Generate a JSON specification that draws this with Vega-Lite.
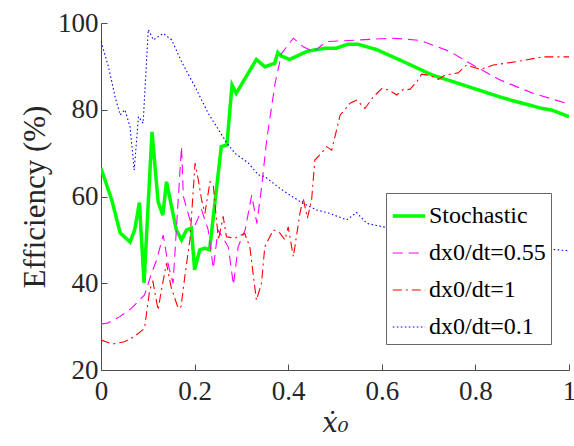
{
  "$schema": "https://vega.github.io/schema/vega-lite/v6.json",
  "width": 468,
  "height": 347,
  "autosize": {"type": "none"},
  "padding": {"left": 101, "top": 23, "right": 5, "bottom": 76},
  "background": "white",
  "config": {
    "view": {"stroke": null},
    "font": "Liberation Serif",
    "axis": {"grid": false, "domainColor": "#4d4d4d", "tickColor": "#4d4d4d", "labelColor": "#262626", "titleColor": "#262626", "labelFont": "Liberation Serif", "labelFontSize": 27, "titleFontWeight": "normal", "tickSize": -6}
  },
  "data": {"values": [
    {"series": "Stochastic", "x": 0.0, "y": 66.5},
    {"series": "Stochastic", "x": 0.023, "y": 59.2},
    {"series": "Stochastic", "x": 0.041, "y": 51.6},
    {"series": "Stochastic", "x": 0.062, "y": 49.5},
    {"series": "Stochastic", "x": 0.072, "y": 52.3},
    {"series": "Stochastic", "x": 0.082, "y": 58.6},
    {"series": "Stochastic", "x": 0.092, "y": 40.1},
    {"series": "Stochastic", "x": 0.109, "y": 74.9},
    {"series": "Stochastic", "x": 0.122, "y": 58.8},
    {"series": "Stochastic", "x": 0.132, "y": 55.7},
    {"series": "Stochastic", "x": 0.140, "y": 63.4},
    {"series": "Stochastic", "x": 0.161, "y": 52.3},
    {"series": "Stochastic", "x": 0.172, "y": 50.0},
    {"series": "Stochastic", "x": 0.183, "y": 52.3},
    {"series": "Stochastic", "x": 0.193, "y": 52.7},
    {"series": "Stochastic", "x": 0.200, "y": 43.1},
    {"series": "Stochastic", "x": 0.211, "y": 47.7},
    {"series": "Stochastic", "x": 0.222, "y": 48.1},
    {"series": "Stochastic", "x": 0.232, "y": 47.7},
    {"series": "Stochastic", "x": 0.257, "y": 71.5},
    {"series": "Stochastic", "x": 0.269, "y": 71.9},
    {"series": "Stochastic", "x": 0.280, "y": 85.7},
    {"series": "Stochastic", "x": 0.289, "y": 83.8},
    {"series": "Stochastic", "x": 0.332, "y": 91.6},
    {"series": "Stochastic", "x": 0.350, "y": 89.9},
    {"series": "Stochastic", "x": 0.371, "y": 90.7},
    {"series": "Stochastic", "x": 0.378, "y": 93.2},
    {"series": "Stochastic", "x": 0.385, "y": 92.4},
    {"series": "Stochastic", "x": 0.403, "y": 91.6},
    {"series": "Stochastic", "x": 0.439, "y": 93.4},
    {"series": "Stochastic", "x": 0.456, "y": 93.8},
    {"series": "Stochastic", "x": 0.481, "y": 94.2},
    {"series": "Stochastic", "x": 0.503, "y": 94.2},
    {"series": "Stochastic", "x": 0.527, "y": 95.1},
    {"series": "Stochastic", "x": 0.549, "y": 95.1},
    {"series": "Stochastic", "x": 0.588, "y": 93.9},
    {"series": "Stochastic", "x": 0.638, "y": 91.5},
    {"series": "Stochastic", "x": 0.708, "y": 88.0},
    {"series": "Stochastic", "x": 0.780, "y": 85.5},
    {"series": "Stochastic", "x": 0.851, "y": 83.0},
    {"series": "Stochastic", "x": 0.886, "y": 81.9},
    {"series": "Stochastic", "x": 0.943, "y": 80.3},
    {"series": "Stochastic", "x": 0.964, "y": 79.9},
    {"series": "Stochastic", "x": 1.0, "y": 78.4},

    {"series": "dx0/dt=0.55", "x": 0.0, "y": 30.6},
    {"series": "dx0/dt=0.55", "x": 0.014, "y": 30.8},
    {"series": "dx0/dt=0.55", "x": 0.040, "y": 32.3},
    {"series": "dx0/dt=0.55", "x": 0.065, "y": 34.2},
    {"series": "dx0/dt=0.55", "x": 0.093, "y": 37.3},
    {"series": "dx0/dt=0.55", "x": 0.108, "y": 42.3},
    {"series": "dx0/dt=0.55", "x": 0.119, "y": 45.4},
    {"series": "dx0/dt=0.55", "x": 0.133, "y": 51.1},
    {"series": "dx0/dt=0.55", "x": 0.143, "y": 44.6},
    {"series": "dx0/dt=0.55", "x": 0.154, "y": 40.0},
    {"series": "dx0/dt=0.55", "x": 0.172, "y": 71.5},
    {"series": "dx0/dt=0.55", "x": 0.176, "y": 60.0},
    {"series": "dx0/dt=0.55", "x": 0.190, "y": 54.6},
    {"series": "dx0/dt=0.55", "x": 0.201, "y": 53.4},
    {"series": "dx0/dt=0.55", "x": 0.215, "y": 56.9},
    {"series": "dx0/dt=0.55", "x": 0.229, "y": 52.3},
    {"series": "dx0/dt=0.55", "x": 0.240, "y": 43.4},
    {"series": "dx0/dt=0.55", "x": 0.250, "y": 52.3},
    {"series": "dx0/dt=0.55", "x": 0.272, "y": 48.4},
    {"series": "dx0/dt=0.55", "x": 0.283, "y": 39.6},
    {"series": "dx0/dt=0.55", "x": 0.293, "y": 48.4},
    {"series": "dx0/dt=0.55", "x": 0.308, "y": 52.3},
    {"series": "dx0/dt=0.55", "x": 0.322, "y": 60.3},
    {"series": "dx0/dt=0.55", "x": 0.333, "y": 53.8},
    {"series": "dx0/dt=0.55", "x": 0.343, "y": 62.0},
    {"series": "dx0/dt=0.55", "x": 0.354, "y": 73.0},
    {"series": "dx0/dt=0.55", "x": 0.372, "y": 86.1},
    {"series": "dx0/dt=0.55", "x": 0.386, "y": 93.0},
    {"series": "dx0/dt=0.55", "x": 0.411, "y": 96.5},
    {"series": "dx0/dt=0.55", "x": 0.432, "y": 94.5},
    {"series": "dx0/dt=0.55", "x": 0.454, "y": 93.4},
    {"series": "dx0/dt=0.55", "x": 0.482, "y": 95.7},
    {"series": "dx0/dt=0.55", "x": 0.553, "y": 96.1},
    {"series": "dx0/dt=0.55", "x": 0.624, "y": 96.5},
    {"series": "dx0/dt=0.55", "x": 0.682, "y": 96.0},
    {"series": "dx0/dt=0.55", "x": 0.746, "y": 93.4},
    {"series": "dx0/dt=0.55", "x": 0.788, "y": 90.7},
    {"series": "dx0/dt=0.55", "x": 0.852, "y": 86.9},
    {"series": "dx0/dt=0.55", "x": 0.923, "y": 83.8},
    {"series": "dx0/dt=0.55", "x": 1.0, "y": 81.3},

    {"series": "dx0/dt=1", "x": 0.0, "y": 26.9},
    {"series": "dx0/dt=1", "x": 0.025, "y": 26.0},
    {"series": "dx0/dt=1", "x": 0.050, "y": 26.5},
    {"series": "dx0/dt=1", "x": 0.071, "y": 27.7},
    {"series": "dx0/dt=1", "x": 0.093, "y": 29.6},
    {"series": "dx0/dt=1", "x": 0.104, "y": 38.4},
    {"series": "dx0/dt=1", "x": 0.111, "y": 40.4},
    {"series": "dx0/dt=1", "x": 0.122, "y": 33.8},
    {"series": "dx0/dt=1", "x": 0.129, "y": 38.4},
    {"series": "dx0/dt=1", "x": 0.140, "y": 44.6},
    {"series": "dx0/dt=1", "x": 0.150, "y": 39.0},
    {"series": "dx0/dt=1", "x": 0.165, "y": 34.2},
    {"series": "dx0/dt=1", "x": 0.171, "y": 34.6},
    {"series": "dx0/dt=1", "x": 0.180, "y": 42.3},
    {"series": "dx0/dt=1", "x": 0.190, "y": 50.0},
    {"series": "dx0/dt=1", "x": 0.201, "y": 67.7},
    {"series": "dx0/dt=1", "x": 0.208, "y": 63.8},
    {"series": "dx0/dt=1", "x": 0.215, "y": 59.2},
    {"series": "dx0/dt=1", "x": 0.222, "y": 56.1},
    {"series": "dx0/dt=1", "x": 0.233, "y": 63.4},
    {"series": "dx0/dt=1", "x": 0.240, "y": 62.6},
    {"series": "dx0/dt=1", "x": 0.244, "y": 57.7},
    {"series": "dx0/dt=1", "x": 0.251, "y": 50.0},
    {"series": "dx0/dt=1", "x": 0.261, "y": 55.4},
    {"series": "dx0/dt=1", "x": 0.268, "y": 50.7},
    {"series": "dx0/dt=1", "x": 0.286, "y": 50.4},
    {"series": "dx0/dt=1", "x": 0.307, "y": 51.5},
    {"series": "dx0/dt=1", "x": 0.318, "y": 48.4},
    {"series": "dx0/dt=1", "x": 0.332, "y": 36.1},
    {"series": "dx0/dt=1", "x": 0.343, "y": 40.0},
    {"series": "dx0/dt=1", "x": 0.350, "y": 48.4},
    {"series": "dx0/dt=1", "x": 0.368, "y": 52.3},
    {"series": "dx0/dt=1", "x": 0.382, "y": 51.6},
    {"series": "dx0/dt=1", "x": 0.393, "y": 50.0},
    {"series": "dx0/dt=1", "x": 0.400, "y": 53.0},
    {"series": "dx0/dt=1", "x": 0.411, "y": 46.1},
    {"series": "dx0/dt=1", "x": 0.425, "y": 56.1},
    {"series": "dx0/dt=1", "x": 0.432, "y": 59.6},
    {"series": "dx0/dt=1", "x": 0.441, "y": 55.0},
    {"series": "dx0/dt=1", "x": 0.450, "y": 59.2},
    {"series": "dx0/dt=1", "x": 0.457, "y": 68.4},
    {"series": "dx0/dt=1", "x": 0.471, "y": 70.0},
    {"series": "dx0/dt=1", "x": 0.482, "y": 71.5},
    {"series": "dx0/dt=1", "x": 0.493, "y": 70.7},
    {"series": "dx0/dt=1", "x": 0.511, "y": 78.8},
    {"series": "dx0/dt=1", "x": 0.521, "y": 80.0},
    {"series": "dx0/dt=1", "x": 0.532, "y": 81.5},
    {"series": "dx0/dt=1", "x": 0.546, "y": 82.2},
    {"series": "dx0/dt=1", "x": 0.553, "y": 81.5},
    {"series": "dx0/dt=1", "x": 0.564, "y": 80.3},
    {"series": "dx0/dt=1", "x": 0.582, "y": 83.0},
    {"series": "dx0/dt=1", "x": 0.600, "y": 84.9},
    {"series": "dx0/dt=1", "x": 0.614, "y": 84.6},
    {"series": "dx0/dt=1", "x": 0.632, "y": 83.4},
    {"series": "dx0/dt=1", "x": 0.646, "y": 84.7},
    {"series": "dx0/dt=1", "x": 0.660, "y": 84.7},
    {"series": "dx0/dt=1", "x": 0.675, "y": 86.5},
    {"series": "dx0/dt=1", "x": 0.685, "y": 88.2},
    {"series": "dx0/dt=1", "x": 0.703, "y": 87.9},
    {"series": "dx0/dt=1", "x": 0.721, "y": 87.0},
    {"series": "dx0/dt=1", "x": 0.735, "y": 88.0},
    {"series": "dx0/dt=1", "x": 0.763, "y": 88.5},
    {"series": "dx0/dt=1", "x": 0.781, "y": 90.3},
    {"series": "dx0/dt=1", "x": 0.810, "y": 89.3},
    {"series": "dx0/dt=1", "x": 0.838, "y": 90.3},
    {"series": "dx0/dt=1", "x": 0.888, "y": 91.1},
    {"series": "dx0/dt=1", "x": 0.945, "y": 92.2},
    {"series": "dx0/dt=1", "x": 1.0, "y": 92.2},

    {"series": "dx0/dt=0.1", "x": 0.0, "y": 95.7},
    {"series": "dx0/dt=0.1", "x": 0.016, "y": 89.9},
    {"series": "dx0/dt=0.1", "x": 0.030, "y": 83.0},
    {"series": "dx0/dt=0.1", "x": 0.041, "y": 78.8},
    {"series": "dx0/dt=0.1", "x": 0.051, "y": 80.0},
    {"series": "dx0/dt=0.1", "x": 0.062, "y": 76.1},
    {"series": "dx0/dt=0.1", "x": 0.071, "y": 66.1},
    {"series": "dx0/dt=0.1", "x": 0.080, "y": 78.4},
    {"series": "dx0/dt=0.1", "x": 0.090, "y": 76.9},
    {"series": "dx0/dt=0.1", "x": 0.101, "y": 98.5},
    {"series": "dx0/dt=0.1", "x": 0.112, "y": 96.1},
    {"series": "dx0/dt=0.1", "x": 0.133, "y": 97.6},
    {"series": "dx0/dt=0.1", "x": 0.151, "y": 96.1},
    {"series": "dx0/dt=0.1", "x": 0.172, "y": 91.1},
    {"series": "dx0/dt=0.1", "x": 0.201, "y": 85.3},
    {"series": "dx0/dt=0.1", "x": 0.229, "y": 79.2},
    {"series": "dx0/dt=0.1", "x": 0.269, "y": 72.3},
    {"series": "dx0/dt=0.1", "x": 0.286, "y": 70.0},
    {"series": "dx0/dt=0.1", "x": 0.315, "y": 67.7},
    {"series": "dx0/dt=0.1", "x": 0.336, "y": 65.0},
    {"series": "dx0/dt=0.1", "x": 0.350, "y": 64.6},
    {"series": "dx0/dt=0.1", "x": 0.382, "y": 61.9},
    {"series": "dx0/dt=0.1", "x": 0.404, "y": 60.3},
    {"series": "dx0/dt=0.1", "x": 0.432, "y": 58.4},
    {"series": "dx0/dt=0.1", "x": 0.461, "y": 56.9},
    {"series": "dx0/dt=0.1", "x": 0.489, "y": 56.1},
    {"series": "dx0/dt=0.1", "x": 0.525, "y": 54.6},
    {"series": "dx0/dt=0.1", "x": 0.546, "y": 56.3},
    {"series": "dx0/dt=0.1", "x": 0.568, "y": 53.8},
    {"series": "dx0/dt=0.1", "x": 0.603, "y": 53.0},
    {"series": "dx0/dt=0.1", "x": 0.700, "y": 51.5},
    {"series": "dx0/dt=0.1", "x": 0.800, "y": 50.0},
    {"series": "dx0/dt=0.1", "x": 0.900, "y": 48.8},
    {"series": "dx0/dt=0.1", "x": 0.974, "y": 47.7},
    {"series": "dx0/dt=0.1", "x": 1.0, "y": 47.5}
  ]},
  "mark": {"type": "line", "clip": true},
  "encoding": {
    "x": {"field": "x", "type": "quantitative", "scale": {"domain": [0, 1], "nice": false},
      "axis": {"values": [0, 0.2, 0.4, 0.6, 0.8, 1], "format": "~g", "labelPadding": 14, "labelFont": "Liberation Serif", "title": "ẋ₀", "titleFont": "DejaVu Serif", "titleFontSize": 27, "titleFontStyle": "italic", "titlePadding": 6, "labelFlush": false}},
    "y": {"field": "y", "type": "quantitative", "scale": {"domain": [20, 100], "nice": false},
      "axis": {"values": [20, 40, 60, 80, 100], "labelPadding": 9, "labelFont": "Liberation Serif", "title": "Efficiency (%)", "titleFont": "Liberation Serif", "titleFontSize": 31, "titlePadding": 6}},
    "color": {"field": "series", "type": "nominal",
      "scale": {"domain": ["Stochastic", "dx0/dt=0.55", "dx0/dt=1", "dx0/dt=0.1"], "range": ["#00ff00", "#ff00ff", "#ff0000", "#0000ff"]},
      "legend": {"title": null, "orient": "none", "legendX": 285, "legendY": 170, "fillColor": "white", "strokeColor": "#666666", "padding": 5, "labelFont": "Liberation Serif", "labelFontSize": 24, "labelColor": "#000000", "labelLimit": 300, "symbolType": "stroke", "symbolSize": 1050, "rowPadding": 8, "labelOffset": 2}},
    "strokeDash": {"field": "series", "type": "nominal",
      "scale": {"domain": ["Stochastic", "dx0/dt=0.55", "dx0/dt=1", "dx0/dt=0.1"], "range": [[1, 0], [10, 6], [9, 4, 2, 4], [1.5, 2.5]]}},
    "strokeWidth": {"field": "series", "type": "nominal",
      "scale": {"type": "ordinal", "domain": ["Stochastic", "dx0/dt=0.55", "dx0/dt=1", "dx0/dt=0.1"], "range": [3.5, 1.1, 1.1, 1.1]}},
    "order": {"field": "x", "type": "quantitative"}
  }
}
